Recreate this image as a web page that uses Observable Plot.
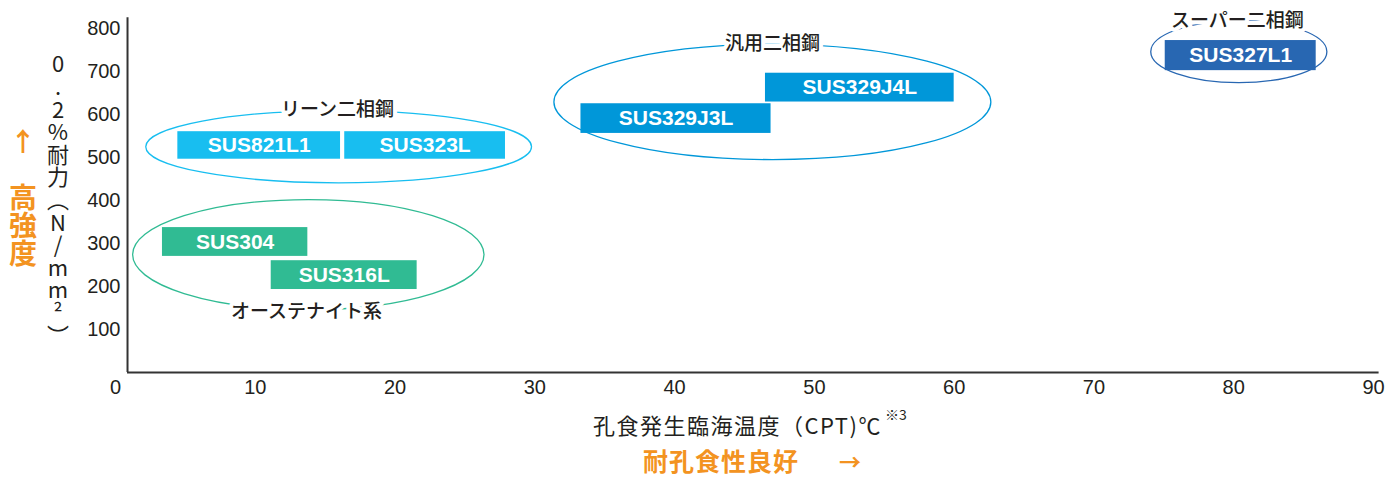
<!DOCTYPE html>
<html><head><meta charset="utf-8">
<script src="https://cdn.jsdelivr.net/npm/d3@7"></script>
<script src="https://cdn.jsdelivr.net/npm/@observablehq/plot@0.6"></script>
<style>body{margin:0;background:#fff} svg{display:block}</style>
</head><body><div id="chart"></div>
<script>
// ---- data ----
const grades     = ["SUS821L1","SUS323L","SUS304","SUS316L","SUS329J3L","SUS329J4L","SUS327L1"];
const gradeGroup = ["lean","lean","aus","aus","gen","gen","super"];
const cptFrom    = [4.46, 16.4, 3.36, 11.14, 33.3, 46.5, 75.1];
const cptTo      = [16.1, 27.9, 13.76, 21.58, 46.9, 60.0, 85.9];
const proofLow   = [496, 496, 270, 193, 556, 629, 702];
const proofHigh  = [560, 560, 337, 260, 625, 696, 772];

const groups      = ["lean","aus","gen","super"];
const groupNames  = ["リーン二相鋼","オーステナイト系","汎用二相鋼","スーパー二相鋼"];
const groupCx     = [16.0, 13.83, 47.03, 80.4];
const groupRx     = [13.8, 12.57, 15.63, 6.3];
const groupCy     = [524, 273, 628, 745];
const groupRy     = [84, 128, 134, 72];
const groupLabelX = [15.88, 13.66, 47.0, 80.26];
const groupLabelY = [610, 140, 764, 818];

const xTicks = [0,10,20,30,40,50,60,70,80,90];
const yTicks = [100,200,300,400,500,600,700,800];
const axisX0 = 0.86, axisRight = 90.4, axisTop = 825;

// ---- tables ----
const bars = grades.map((g,i)=>({grade:g, group:gradeGroup[i], from:cptFrom[i], to:cptTo[i], low:proofLow[i], high:proofHigh[i]}));
const groupTable = groups.map((k,i)=>({key:k, name:groupNames[i], cx:groupCx[i], rx:groupRx[i], cy:groupCy[i], ry:groupRy[i], lx:groupLabelX[i], ly:groupLabelY[i]}));

const CJK = "'Noto Sans CJK JP', 'Noto Sans', sans-serif";
const SANS = "'Liberation Sans', Arial, sans-serif";
const INK = "#231f20";
const ORANGE = "#f39321";

const ellipseMark = (index, scales) => {
  const g = d3.create("svg:g");
  for (const d of groupTable) {
    const cx = scales.x(d.cx), cy = scales.y(d.cy);
    const rx = Math.abs(scales.x(d.cx + d.rx) - cx);
    const ry = Math.abs(scales.y(d.cy + d.ry) - cy);
    g.append("ellipse").attr("cx", cx).attr("cy", cy).attr("rx", rx).attr("ry", ry)
      .attr("fill", "none").attr("stroke", scales.color(d.key)).attr("stroke-width", 1.3);
  }
  return g.node();
};

const plot = Plot.plot({
  width: 1385, height: 477,
  marginLeft: 115, marginRight: 12, marginTop: 28, marginBottom: 105,
  x: {domain: [0, 90]},
  y: {domain: [0, 800]},
  color: {domain: groups, range: ["#18bef0", "#30bb93", "#0097d9", "#2867b2"]},
  style: {fontFamily: SANS, fontSize: "20px", color: INK, background: "#fff"},
  marks: [
    ellipseMark,
    Plot.rect(bars, {x1: "from", x2: "to", y1: "low", y2: "high", fill: "group"}),
    Plot.text(bars, {x: d => (d.from + d.to) / 2, y: d => (d.low + d.high) / 2, text: "grade",
      fill: "white", fontWeight: "bold", fontSize: 21, fontFamily: SANS}),
    Plot.text(groupTable, {x: "lx", y: "ly", text: "name", fill: INK, stroke: "white", strokeWidth: 8,
      fontSize: 19, fontWeight: 500, fontFamily: CJK}),
    Plot.ruleX([axisX0], {y1: 0, y2: axisTop, stroke: "#333", strokeWidth: 2}),
    Plot.ruleY([0], {x1: axisX0, x2: axisRight, stroke: "#333", strokeWidth: 2}),
    Plot.axisX({ticks: xTicks, tickSize: 0, tickPadding: 7, label: null, fill: INK}),
    Plot.axisY({ticks: yTicks, tickSize: 0, tickPadding: 0, dx: 5, label: null, fill: INK})
  ]
});

const svg = d3.select(plot);
// y-axis title (vertical)
svg.append("text").attr("x", 58).attr("y", 200).attr("text-anchor", "middle")
  .style("writing-mode", "vertical-rl").style("text-orientation", "upright")
  .attr("font-family", CJK).attr("font-size", 22).attr("letter-spacing", 0.6).attr("fill", INK)
  .text("0.2%耐力（N/mm²）");
// orange strength note
svg.append("text").attr("x", 23).attr("y", 139).attr("text-anchor", "middle").attr("dominant-baseline", "central")
  .attr("font-family", CJK).attr("font-weight", "bold").attr("font-size", 26).attr("fill", ORANGE).text("↑");
svg.append("text").attr("x", 23).attr("y", 225).attr("text-anchor", "middle")
  .style("writing-mode", "vertical-rl").style("text-orientation", "upright")
  .attr("font-family", CJK).attr("font-weight", "bold").attr("font-size", 28).attr("fill", ORANGE).text("高強度");
// x-axis title
const xt = svg.append("text").attr("x", 593).attr("y", 424).attr("text-anchor", "start").attr("dominant-baseline", "central")
  .attr("font-family", CJK).attr("font-size", 22).attr("letter-spacing", 1.5).attr("fill", INK);
xt.append("tspan").text("孔食発生臨海温度（CPT)℃");
xt.append("tspan").attr("font-size", 14).attr("letter-spacing", 0).attr("dx", 3).attr("dy", -10).text("※3");
// orange pitting note
svg.append("text").attr("x", 721).attr("y", 460).attr("text-anchor", "middle").attr("dominant-baseline", "central")
  .attr("font-family", CJK).attr("font-weight", "bold").attr("font-size", 25).attr("letter-spacing", 1).attr("fill", ORANGE).text("耐孔食性良好");
svg.append("text").attr("x", 850).attr("y", 460).attr("text-anchor", "middle").attr("dominant-baseline", "central")
  .attr("font-family", CJK).attr("font-weight", "bold").attr("font-size", 22).attr("fill", ORANGE).text("→");

document.getElementById("chart").append(plot);
</script>
</body></html>
